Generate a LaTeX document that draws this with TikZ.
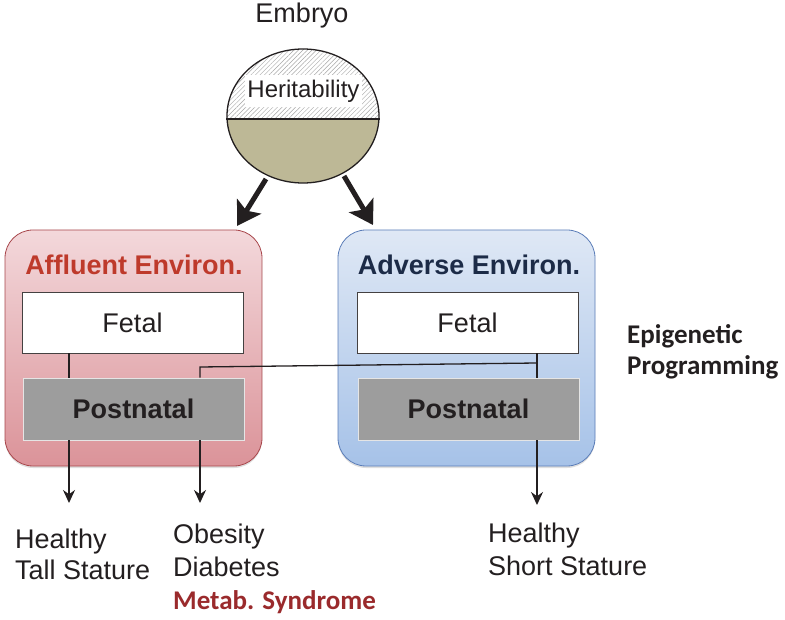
\documentclass[tikz,border=0pt]{standalone}
\usepackage{fontspec}
\setmainfont{Liberation Sans}
\newfontfamily\calib{Carlito}
\usetikzlibrary{arrows.meta,shapes.geometric,patterns.meta,shadows}
\definecolor{ink}{HTML}{231F20}
\definecolor{olivefill}{HTML}{BDB896}
\definecolor{pinktop}{HTML}{F3D8DB}
\definecolor{pinkbot}{HTML}{DB9399}
\definecolor{pinkedge}{HTML}{A8474C}
\definecolor{bluetop}{HTML}{DFE8F5}
\definecolor{bluebot}{HTML}{A6C2E8}
\definecolor{blueedge}{HTML}{5B7DB8}
\definecolor{affred}{HTML}{BE3A2B}
\definecolor{advnavy}{HTML}{1C2B47}
\definecolor{metabred}{HTML}{9A2A2C}
\definecolor{postgray}{HTML}{9D9D9D}
\begin{document}
\begin{tikzpicture}[x=1pt,y=-1pt,
  txt/.style={font=\fontsize{27}{32}\selectfont, text=ink, inner sep=0pt},
  envbox/.style={rounded corners=28pt, minimum width=257pt, minimum height=236pt, line width=0.8pt,
     drop shadow={opacity=0.25, shadow xshift=0pt, shadow yshift=-2pt}},
  fetalbox/.style={draw=ink!85, line width=0.6pt, fill=white, minimum width=221pt, minimum height=61pt,
     font=\fontsize{27}{32}\selectfont, text=ink},
  postbox/.style={draw=white!90!black, line width=0.8pt, fill=postgray, minimum width=221pt, minimum height=62pt,
     font=\fontsize{27}{32}\selectfont\bfseries, text=ink},
  conn/.style={draw=ink, line width=1.3pt},
  thinarrow/.style={conn, -{Stealth[length=13pt, width=12pt]}},
  bigarrow/.style={draw=ink, line width=5pt, -{Stealth[length=23pt, width=28pt, inset=5pt]}}
]
\useasboundingbox (0,0) rectangle (785,620);

% Embryo
\node[txt, anchor=base] (embt) at (302,23) {Embryo};
\begin{scope}
  \clip (303,116) ellipse [x radius=76, y radius=67];
  \fill[white] (220,40) rectangle (390,119);
  \fill[pattern={Lines[angle=45,distance=3.2pt,line width=0.45pt]}, pattern color=black!35] (220,40) rectangle (390,119);
  \fill[olivefill] (220,119) rectangle (390,195);
\end{scope}
\node[ellipse, draw=ink, line width=1.3pt, minimum width=152pt, minimum height=134pt, inner sep=0pt] (emb) at (303,116) {};
\coordinate (dl) at (227,119);
\coordinate (dr) at (379,119);
\draw[ink, line width=1.3pt] (emb.west |- dl) -- (emb.east |- dr);
\node[fill=white, minimum width=117pt, minimum height=32pt, inner sep=0pt,
  font=\fontsize{24}{28}\selectfont, text=ink] (her) at (303.5,91) {Heritability};

% Environment boxes
\node[envbox, draw=pinkedge, top color=pinktop, bottom color=pinkbot] (aff) at (133.5,348) {};
\node[envbox, draw=blueedge, top color=bluetop, bottom color=bluebot] (adv) at (466.5,348) {};
\node[txt, anchor=base, font=\fontsize{27}{32}\selectfont\bfseries, text=affred] (afft) at (134,275) {Affluent Environ.};
\node[txt, anchor=base, font=\fontsize{27}{32}\selectfont\bfseries, text=advnavy] (advt) at (469,275) {Adverse Environ.};

\node[fetalbox] (fetL) at (132.5,322.5) {Fetal};
\node[fetalbox] (fetR) at (467.5,322.5) {Fetal};
\node[postbox] (postL) at (133.5,409) {Postnatal};
\node[postbox] (postR) at (468.5,409) {Postnatal};

% big arrows
\coordinate (a1s) at (266,179);
\coordinate (a1e) at (237,226);
\coordinate (a2s) at (344,176);
\coordinate (a2e) at (373,225);
\draw[bigarrow] (a1s) -- (a1e);
\draw[bigarrow] (a2s) -- (a2e);

% connectors
\coordinate (xa) at (69,0);
\coordinate (xb) at (200,0);
\coordinate (xc) at (537,0);
\coordinate (jR) at (537,363);
\coordinate (jL) at (200,367);
\coordinate (o1) at (69,503);
\coordinate (o2) at (200,503);
\coordinate (o3) at (537,505);
\draw[conn] (fetL.south -| xa) -- (postL.north -| xa);
\draw[conn] (fetR.south -| xc) -- (postR.north -| xc);
\draw[conn] (jR) -- (jL) -- (postL.north -| xb);
\draw[thinarrow] (postL.south -| xa) -- (o1);
\draw[thinarrow] (postL.south -| xb) -- (o2);
\draw[thinarrow] (postR.south -| xc) -- (o3);

% labels (base anchor = baseline of last line)
\node[txt, anchor=base west, align=left, font=\fontsize{27}{32}\selectfont\calib\bfseries] (epi) at (627,375) {Epigenetic\\Programming};
\node[txt, anchor=base west, align=left, font=\fontsize{27}{31}\selectfont] (out1) at (15,579) {Healthy\\Tall Stature};
\node[txt, anchor=base west, align=left, font=\fontsize{27}{33}\selectfont] (out2) at (173,609) {Obesity\\Diabetes\\{\calib\bfseries\color{metabred}Metab. Syndrome}};
\node[txt, anchor=base west, align=left, font=\fontsize{27}{33}\selectfont] (out3) at (488,575) {Healthy\\Short Stature};
\end{tikzpicture}
\end{document}
